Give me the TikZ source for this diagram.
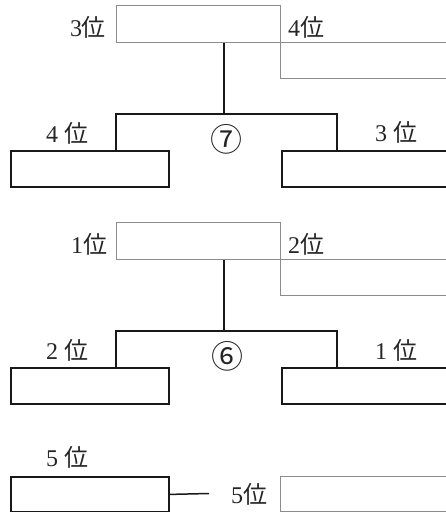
\documentclass[tikz,border=0pt]{standalone}
\usepackage{fontspec}
\setmainfont{Liberation Serif}
\newfontfamily\jpfont{Noto Sans CJK JP}
\usetikzlibrary{calc}
\newcommand\rk{{\jpfont 位}}
\begin{document}
\begin{tikzpicture}[x=1pt,y=-1pt,
  thinbox/.style={draw=black!45,line width=0.9pt,rectangle,inner sep=0pt,minimum height=36pt,anchor=north west},
  thickbox/.style={draw=black!90,line width=1.8pt,rectangle,inner sep=0pt,minimum height=36pt,anchor=north west},
  conn/.style={draw=black!90,line width=1.8pt},
  lab/.style={inner sep=0pt,text=black!85,font=\fontsize{24}{24}\selectfont},
  circ/.style={inner sep=0pt,text=black!85,font=\jpfont\fontsize{32}{32}\selectfont}]
\useasboundingbox (0,0) rectangle (446,512);
\clip (0,0) rectangle (446,512);
% ---- match 7 ----
\node[thinbox,minimum width=164pt,minimum height=37pt] (a7) at (116,5) {};
\node[thinbox,minimum width=180pt] (b7) at (280,42) {};
\node[thickbox,minimum width=158pt] (l7) at (10,150) {};
\node[thickbox,minimum width=180pt] (r7) at (281,150) {};
\coordinate (j7) at (224,114);
\draw[conn] (a7.south -| j7) -- (j7);
\draw[conn] (l7.north -| a7.west) |- (j7) -| ($(r7.north west)+(56,0)$);
\node[lab] (t73) at (88,27) {3\rk};
\node[lab] (t74) at (306,27) {4\rk};
\node[lab] (t7l) at (67,133) {4 \rk};
\node[circ] (c7) at (226,139) {⑦};
\node[lab] (t7r) at (396,132) {3 \rk};
% ---- match 6 ----
\node[thinbox,minimum width=164pt,minimum height=37pt] (a6) at (116,222) {};
\node[thinbox,minimum width=180pt] (b6) at (280,259) {};
\node[thickbox,minimum width=158pt] (l6) at (10,367) {};
\node[thickbox,minimum width=180pt] (r6) at (281,367) {};
\coordinate (j6) at (224,331);
\draw[conn] (a6.south -| j6) -- (j6);
\draw[conn] (l6.north -| a6.west) |- (j6) -| ($(r6.north west)+(56,0)$);
\node[lab] (t61) at (89,244) {1\rk};
\node[lab] (t62) at (306,244) {2\rk};
\node[lab] (t6l) at (67,350) {2 \rk};
\node[circ] (c6) at (227,356) {⑥};
\node[lab] (t6r) at (396,350) {1 \rk};
% ---- 5th place ----
\node[thickbox,minimum width=158pt,minimum height=35pt] (l5) at (10,476) {};
\node[thinbox,minimum width=180pt,minimum height=35pt] (r5) at (280,476) {};
\coordinate (e5) at (209,493.5);
\draw[conn,line width=1.5pt] (l5.east) -- (e5);
\node[lab] (t5a) at (67,457) {5 \rk};
\node[lab] (t5b) at (249,494) {5\rk};
\end{tikzpicture}
\end{document}
